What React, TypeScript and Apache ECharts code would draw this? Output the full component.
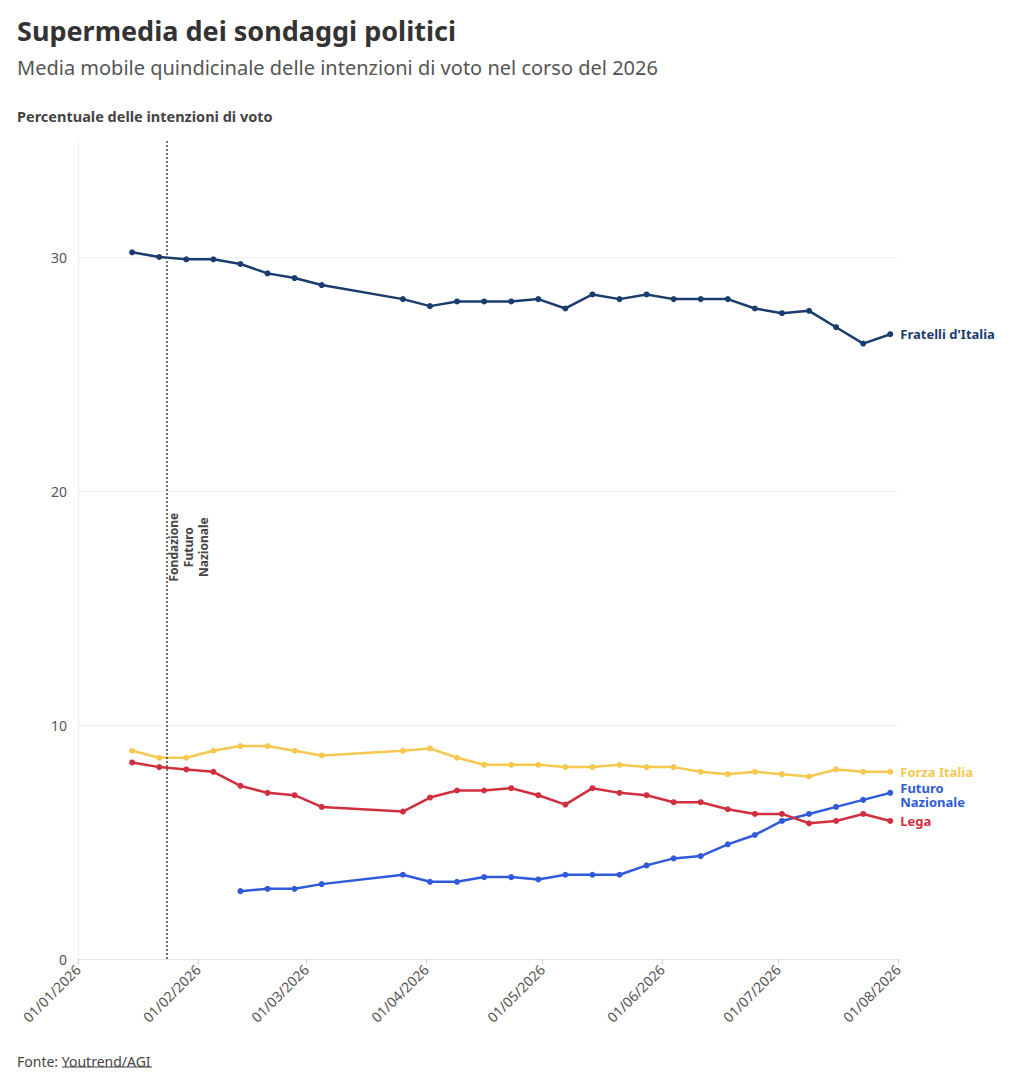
import { useEffect, useRef } from 'react';
import * as echarts from 'echarts';

// settimane (giovedì) della supermedia
const dates = [
  '2026-01-15', '2026-01-22', '2026-01-29', '2026-02-05', '2026-02-12', '2026-02-19', '2026-02-26',
  '2026-03-05', '2026-03-26', '2026-04-02', '2026-04-09', '2026-04-16', '2026-04-23', '2026-04-30',
  '2026-05-07', '2026-05-14', '2026-05-21', '2026-05-28', '2026-06-04', '2026-06-11', '2026-06-18',
  '2026-06-25', '2026-07-02', '2026-07-09', '2026-07-16', '2026-07-23', '2026-07-30',
];

const fdi = [
  30.2, 30.0, 29.9, 29.9, 29.7, 29.3, 29.1, 28.8, 28.2, 27.9, 28.1, 28.1, 28.1, 28.2,
  27.8, 28.4, 28.2, 28.4, 28.2, 28.2, 28.2, 27.8, 27.6, 27.7, 27.0, 26.3, 26.7,
];
const forzaItalia = [
  8.9, 8.6, 8.6, 8.9, 9.1, 9.1, 8.9, 8.7, 8.9, 9.0, 8.6, 8.3, 8.3, 8.3,
  8.2, 8.2, 8.3, 8.2, 8.2, 8.0, 7.9, 8.0, 7.9, 7.8, 8.1, 8.0, 8.0,
];
const lega = [
  8.4, 8.2, 8.1, 8.0, 7.4, 7.1, 7.0, 6.5, 6.3, 6.9, 7.2, 7.2, 7.3, 7.0,
  6.6, 7.3, 7.1, 7.0, 6.7, 6.7, 6.4, 6.2, 6.2, 5.8, 5.9, 6.2, 5.9,
];
const futuroNazionale = [
  null, null, null, null, 2.9, 3.0, 3.0, 3.2, 3.6, 3.3, 3.3, 3.5, 3.5, 3.4,
  3.6, 3.6, 3.6, 4.0, 4.3, 4.4, 4.9, 5.3, 5.9, 6.2, 6.5, 6.8, 7.1,
];

const yTicks = [0, 10, 20, 30];
const xMin = '2026-01-01';
const xMax = '2026-08-01';
const eventDate = '2026-01-24';
const eventLabel = 'Fondazione\nFuturo\nNazionale';

const FONT = '"Noto Sans", sans-serif';

const pairs = (vals: (number | null)[]) => dates.map((d, i) => [d, vals[i]]);

export default function App() {
  const chartRef = useRef<HTMLDivElement>(null);

  useEffect(() => {
    if (!chartRef.current) return;
    document.body.style.margin = '0';
    const chart = echarts.init(chartRef.current, null, { renderer: 'svg' });

    const makeSeries = (name: string, vals: (number | null)[], color: string, extra: any = {}) => ({
      name,
      type: 'line',
      data: pairs(vals),
      symbol: 'circle',
      symbolSize: 6,
      lineStyle: { color, width: 2.5 },
      itemStyle: { color },
      endLabel: {
        show: true,
        formatter: name,
        color,
        fontFamily: FONT,
        fontSize: 13,
        fontWeight: 'bold',
        distance: 10,
        ...extra,
      },
      emphasis: { disabled: true },
    });

    const fmtDate = (v: number) => {
      const d = new Date(v);
      const p = (n: number) => String(n).padStart(2, '0');
      return `${p(d.getDate())}/${p(d.getMonth() + 1)}/${d.getFullYear()}`;
    };

    const option: any = {
      animation: false,
      backgroundColor: '#fff',
      textStyle: { fontFamily: FONT },
      title: [
        {
          text: 'Supermedia dei sondaggi politici',
          left: 12,
          top: 12,
          textStyle: { fontFamily: FONT, fontSize: 27, fontWeight: 'bold', color: '#333' },
        },
        {
          text: 'Media mobile quindicinale delle intenzioni di voto nel corso del 2026',
          left: 12,
          top: 52,
          textStyle: { fontFamily: FONT, fontSize: 20, fontWeight: 'normal', color: '#555' },
        },
        {
          text: 'Percentuale delle intenzioni di voto',
          left: 12,
          top: 103,
          textStyle: { fontFamily: FONT, fontSize: 14.5, fontWeight: 'bold', color: '#444' },
        },
        {
          text: 'Fonte: Youtrend/AGI',
          left: 12,
          top: 1049,
          textStyle: { fontFamily: FONT, fontSize: 14, fontWeight: 'normal', color: '#444' },
        },
      ],
      graphic: [
        { type: 'line', shape: { x1: 62, y1: 1067, x2: 152, y2: 1067 }, style: { stroke: '#444', lineWidth: 1 } },
      ],
      grid: { left: 78, right: 126, top: 140, bottom: 132 },
      xAxis: {
        type: 'time',
        min: xMin,
        max: xMax,
        splitNumber: 8,
        axisLine: { lineStyle: { color: '#e6e6e6' } },
        axisTick: { show: true, length: 5, lineStyle: { color: '#ccc' } },
        axisLabel: {
          formatter: (v: number) => fmtDate(v),
          rotate: 45,
          color: '#555',
          fontSize: 14,
          fontFamily: FONT,
          margin: 8,
          showMinLabel: true,
          showMaxLabel: true,
        },
        splitLine: { show: false },
      },
      yAxis: {
        type: 'value',
        min: 0,
        max: 35,
        interval: 10,
        axisLine: { show: true, lineStyle: { color: '#eeeeee' } },
        axisTick: { show: false },
        axisLabel: {
          formatter: (v: number) => (yTicks.includes(v) ? String(v) : ''),
          color: '#555',
          fontSize: 14,
          fontFamily: FONT,
          margin: 11,
        },
        splitLine: { show: true, showMaxLine: false, lineStyle: { color: '#f0f0f0' } },
      },
      series: [
        {
          ...makeSeries("Fratelli d'Italia", fdi, '#1b3c6e'),
          markLine: {
            silent: true,
            symbol: 'none',
            label: { show: false },
            lineStyle: { color: '#444', type: [2, 2], width: 1.5 },
            data: [{ xAxis: eventDate }],
          },
          markPoint: {
            silent: true,
            symbol: 'circle',
            symbolSize: 0,
            label: {
              show: true,
              formatter: eventLabel,
              rotate: 90,
              color: '#444',
              fontFamily: FONT,
              fontSize: 12,
              fontWeight: 'bold',
              lineHeight: 15,
              align: 'center',
              verticalAlign: 'middle',
              offset: [0, 22],
            },
            data: [{ coord: [eventDate, 17.6] }],
          },
        },
        makeSeries('Forza Italia', forzaItalia, '#f6c850'),
        makeSeries('Futuro Nazionale', futuroNazionale, '#2f5ad9', {
          formatter: 'Futuro\nNazionale',
          lineHeight: 13.5,
          offset: [0, 2],
        }),
        makeSeries('Lega', lega, '#d12f3e'),
      ],
    };

    chart.setOption(option);
    return () => chart.dispose();
  }, []);

  return <div ref={chartRef} style={{ width: 1024, height: 1091 }} />;
}
